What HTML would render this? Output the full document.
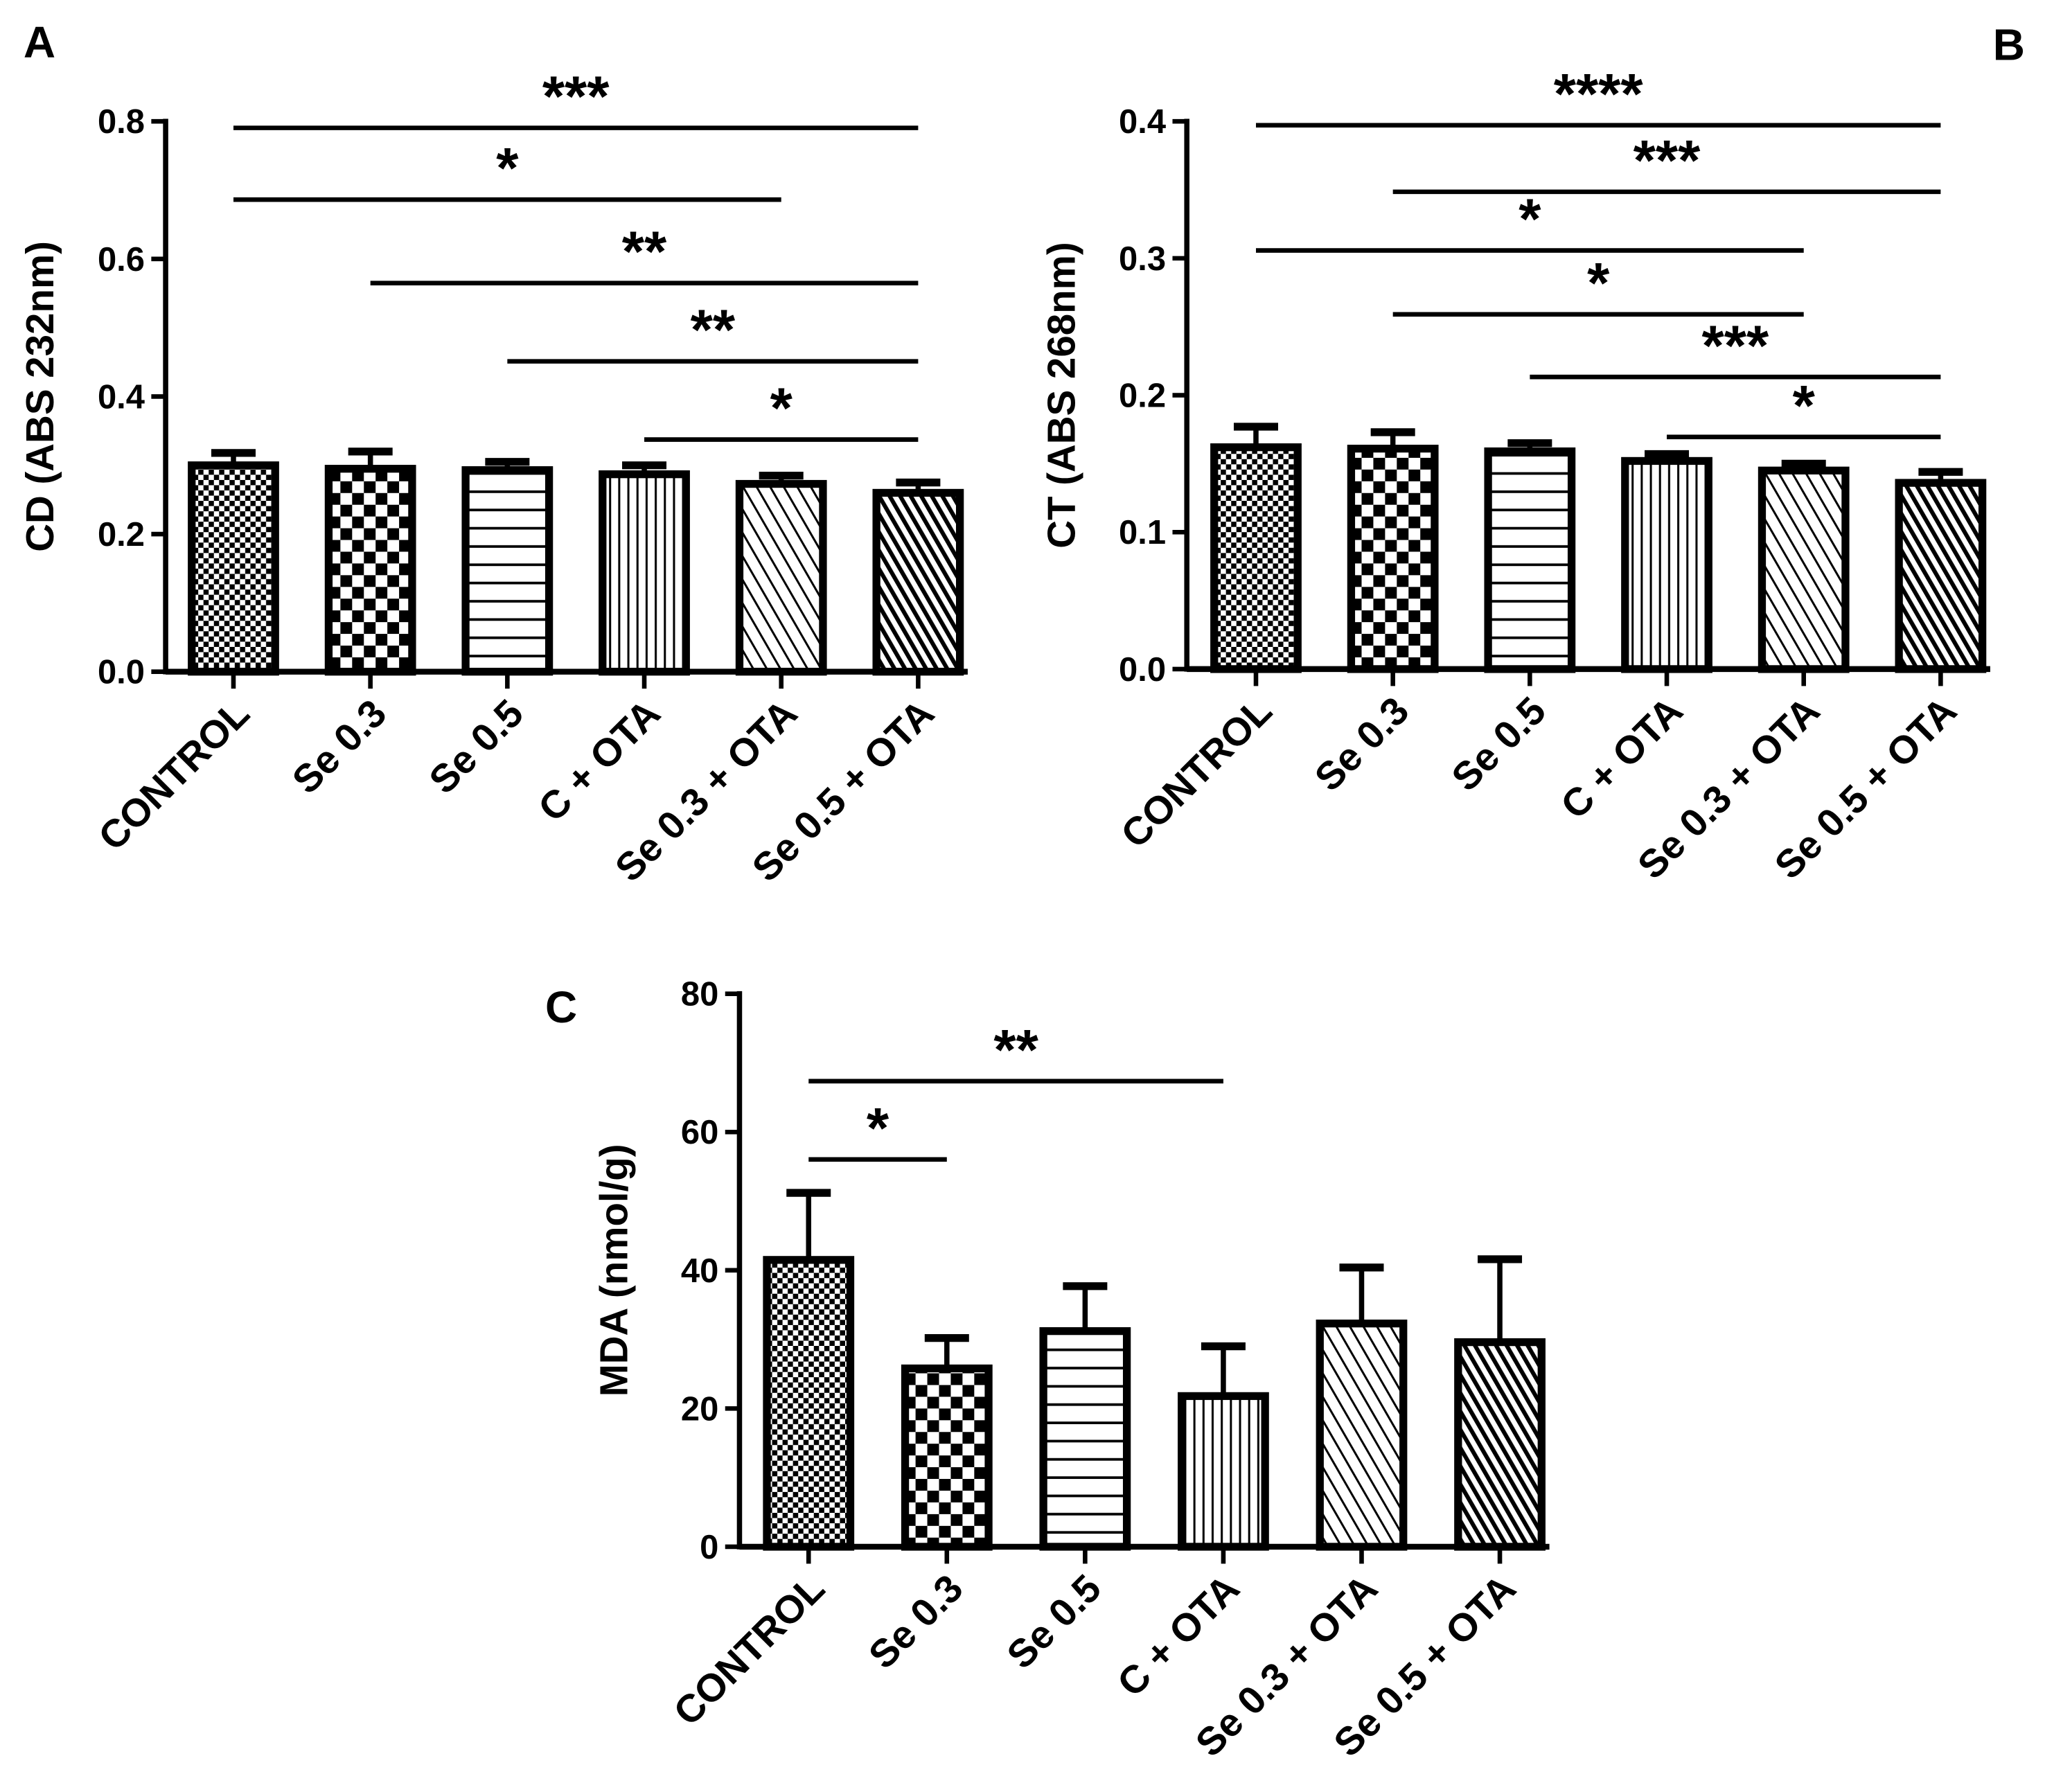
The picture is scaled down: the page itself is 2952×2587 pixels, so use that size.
<!DOCTYPE html>
<html><head><meta charset="utf-8"><style>
html,body{margin:0;padding:0;background:#fff;}
svg{display:block;}
text{font-family:"Liberation Sans",Arial,sans-serif;font-weight:bold;fill:#000;}
</style></head><body>
<svg id="fig" xmlns="http://www.w3.org/2000/svg" width="2952" height="2587" viewBox="0 0 1568 1374">
<defs>
<pattern id="p0" width="8" height="8" patternUnits="userSpaceOnUse"><rect width="8" height="8" fill="#fff"/><rect width="4" height="4" fill="#000"/><rect x="4" y="4" width="4" height="4" fill="#000"/></pattern>
<pattern id="p1" width="18" height="18" patternUnits="userSpaceOnUse"><rect width="18" height="18" fill="#fff"/><rect width="9" height="9" fill="#000"/><rect x="9" y="9" width="9" height="9" fill="#000"/></pattern>
<pattern id="p2" width="10" height="14" patternUnits="userSpaceOnUse"><rect width="10" height="14" fill="#fff"/><rect y="12" width="10" height="2" fill="#000"/></pattern>
<pattern id="p3" width="7" height="10" patternUnits="userSpaceOnUse"><rect width="7" height="10" fill="#fff"/><rect x="5" width="1.6" height="10" fill="#000"/></pattern>
<pattern id="p4" width="9" height="9" patternUnits="userSpaceOnUse" patternTransform="rotate(-30)"><rect width="9" height="9" fill="#fff"/><rect width="1.6" height="9" fill="#000"/></pattern>
<pattern id="p5" width="7" height="7" patternUnits="userSpaceOnUse" patternTransform="rotate(-30)"><rect width="7" height="7" fill="#fff"/><rect width="3.2" height="7" fill="#000"/></pattern>
</defs>
<g id="root"></g>
</svg>
<script>
const categories = ["CONTROL","Se 0.3","Se 0.5","C + OTA","Se 0.3 + OTA","Se 0.5 + OTA"];
const valuesA = [0.300,0.295,0.293,0.287,0.273,0.260];
const errTopA = [0.318,0.320,0.305,0.300,0.285,0.275];
const ticksA = [0,0.2,0.4,0.6,0.8];
const tickLabelsA = ["0.0","0.2","0.4","0.6","0.8"];
const sigA = [[0,5,"***"],[0,4,"*"],[1,5,"**"],[2,5,"**"],[3,5,"*"]];
const valuesB = [0.162,0.161,0.159,0.152,0.145,0.136];
const errTopB = [0.177,0.173,0.165,0.157,0.150,0.144];
const ticksB = [0,0.1,0.2,0.3,0.4];
const tickLabelsB = ["0.0","0.1","0.2","0.3","0.4"];
const sigB = [[0,5,"****"],[1,5,"***"],[0,4,"*"],[1,4,"*"],[2,5,"***"],[3,5,"*"]];
const valuesC = [41.5,25.8,31.2,21.8,32.3,29.6];
const errTopC = [51.2,30.2,37.7,29.0,40.4,41.6];
const ticksC = [0,20,40,60,80];
const tickLabelsC = ["0","20","40","60","80"];
const sigC = [[0,3,"**"],[0,1,"*"]];

const NS="http://www.w3.org/2000/svg";
const root=document.getElementById('root');
function mk(tag,attrs,parent){const e=document.createElementNS(NS,tag);for(const k in attrs)e.setAttribute(k,attrs[k]);(parent||root).appendChild(e);return e;}

function panel(cfg){
  const g=mk('g',{});
  
  
  const yS=v=>cfg.y0-(v-cfg.min)/(cfg.max-cfg.min)*(cfg.y0-cfg.y1);
  const xS=i=>cfg.x0+i*cfg.step;
  cfg.vals.forEach((v,i)=>{
    const cx=xS(i),w=64;
    const et=mk('line',{x1:cx,x2:cx,y1:yS(cfg.err[i]),y2:yS(v),stroke:'#000','stroke-width':4},g);
    
    
    const cap=mk('line',{x1:cx-17,x2:cx+17,y1:yS(cfg.err[i]),y2:yS(cfg.err[i]),stroke:'#000','stroke-width':6},g);
    
    
    const r=mk('rect',{x:cx-w/2,y:yS(v),width:w,height:yS(cfg.min)-yS(v),fill:'url(#p'+i+')',stroke:'#000','stroke-width':6},g);
    
    
  });
  const ya=mk('line',{x1:cfg.ax,x2:cfg.ax,y1:cfg.y1-2,y2:cfg.y0+2,stroke:'#000','stroke-width':4},g);
  
  
  const xa=mk('line',{x1:cfg.ax,x2:xS(5)+38,y1:cfg.y0,y2:cfg.y0,stroke:'#000','stroke-width':4.5},g);
  
  
  cfg.ticks.forEach((t,i)=>{
    mk('line',{x1:cfg.ax-11,x2:cfg.ax,y1:yS(t),y2:yS(t),stroke:'#000','stroke-width':3.5},g);
    const tx=mk('text',{x:cfg.ax-16,y:yS(t)+9,'text-anchor':'end','font-size':26},g);
    tx.textContent=cfg.tl[i];
    
    
  });
  categories.forEach((c,i)=>{
    const cx=xS(i);
    mk('line',{x1:cx,x2:cx,y1:cfg.y0,y2:cfg.y0+13,stroke:'#000','stroke-width':3.5},g);
    const ax=cx+14, ay=cfg.y0+34;
    const tx=mk('text',{x:ax,y:ay,'text-anchor':'end','font-size':30,transform:`rotate(-45 ${ax} ${ay})`},g);
    tx.textContent=c;
    
    
  });
  const yt=mk('text',{x:0,y:0,'text-anchor':'middle','font-size':30,transform:`translate(${cfg.ax-86} ${(cfg.y0+cfg.y1)/2}) rotate(-90)`},g);
  yt.textContent=cfg.title;
  
  
  cfg.sig.forEach((s,k)=>{
    const y=cfg.sigY[k];
    const l=mk('line',{x1:xS(s[0]),x2:xS(s[1]),y1:y,y2:y,stroke:'#000','stroke-width':3.5},g);
    
    
    const t=mk('text',{x:(xS(s[0])+xS(s[1]))/2,y:y-9,'text-anchor':'middle','font-size':44},g);
    t.textContent=s[2];
    
    
  });
  const pl=mk('text',{x:cfg.lx,y:cfg.ly,'font-size':34},g);
  pl.textContent=cfg.letter;
  
  
}
panel({name:'panel-a',vals:valuesA,err:errTopA,ticks:ticksA,tl:tickLabelsA,sig:sigA,sigY:[98,153,217,277,337],min:0,max:0.8,y0:515,y1:93,ax:127,x0:179,step:105,title:'CD (ABS 232nm)',letter:'A',lx:18,ly:44});
panel({name:'panel-b',vals:valuesB,err:errTopB,ticks:ticksB,tl:tickLabelsB,sig:sigB,sigY:[96,147,192,241,289,335],min:0,max:0.4,y0:513,y1:93,ax:910,x0:963,step:105,title:'CT (ABS 268nm)',letter:'B',lx:1528,ly:46});
panel({name:'panel-c',vals:valuesC,err:errTopC,ticks:ticksC,tl:tickLabelsC,sig:sigC,sigY:[829,889],min:0,max:80,y0:1186,y1:762,ax:567,x0:620,step:106,title:'MDA (nmol/g)',letter:'C',lx:418,ly:784});
</script>
</body></html>
